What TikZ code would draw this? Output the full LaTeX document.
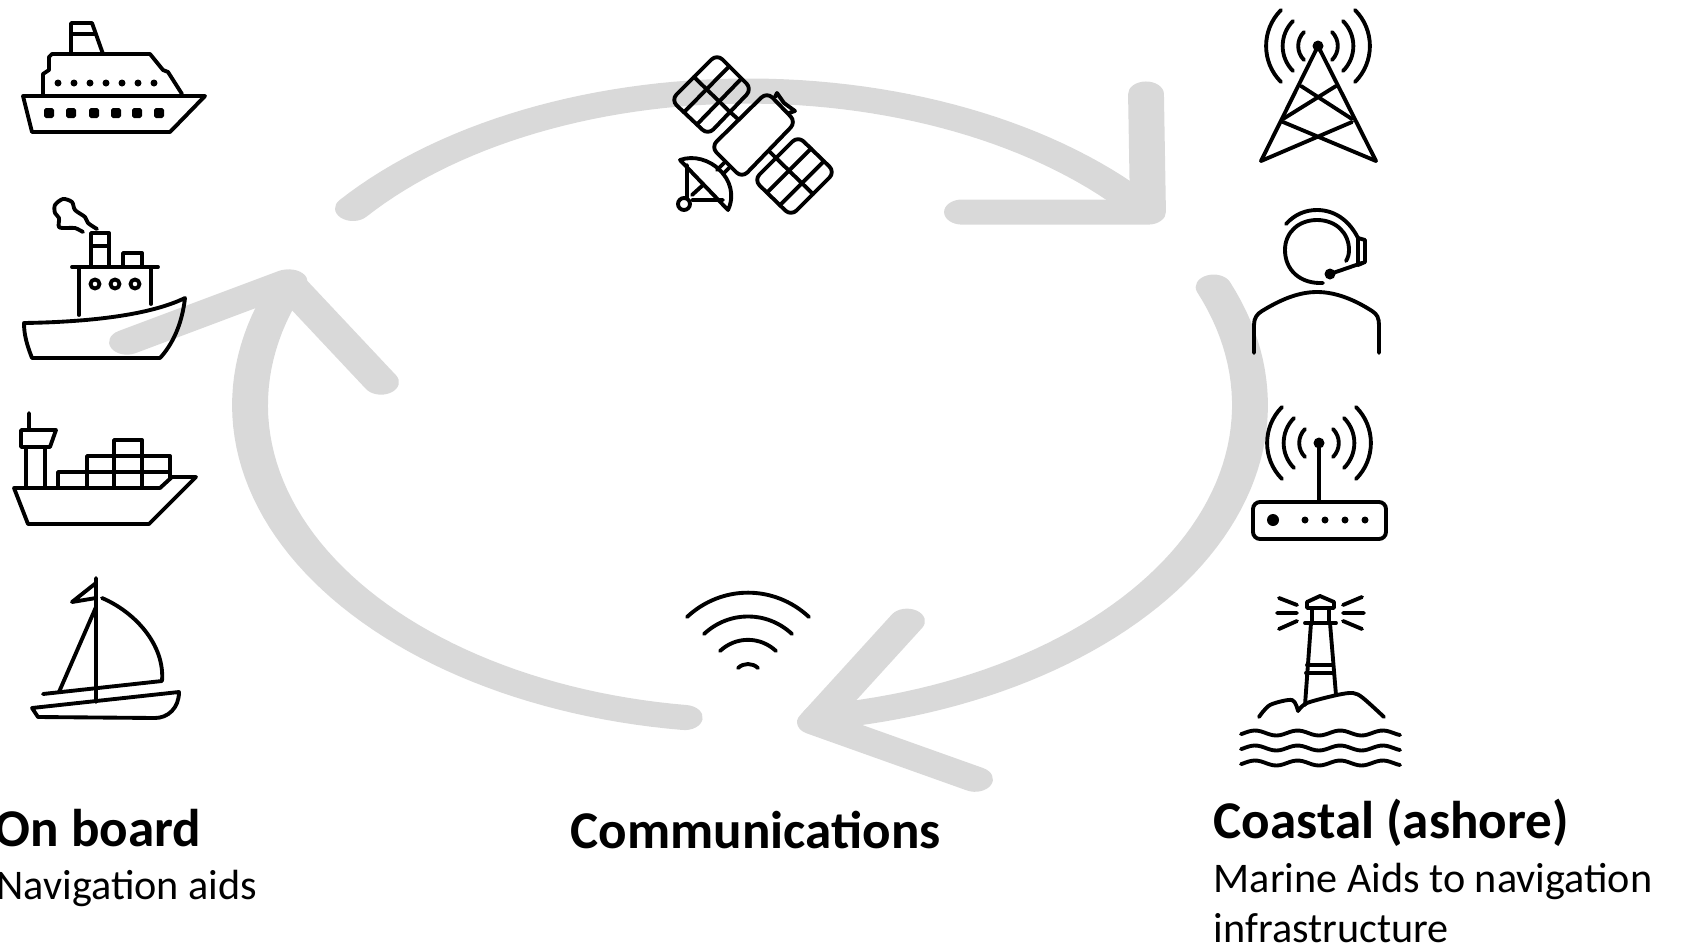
\documentclass[tikz,border=0pt]{standalone}
\usepackage{fontspec}
\setmainfont{Carlito}
\usetikzlibrary{calc}
\definecolor{ringgray}{HTML}{D9D9D9}
\tikzset{
	icon/.style={line width=1.1pt,line join=round,line cap=round},
	ring/.style={line width=10.2pt,color=ringgray,line join=round,line cap=round},
	headtext/.style={anchor=base west,inner sep=0pt,font=\fontsize{15.1}{18}\selectfont\bfseries},
	subtext/.style={anchor=base west,inner sep=0pt,font=\fontsize{12}{15}\selectfont}
}
\begin{document}
\begin{tikzpicture}[x=0.01cm,y=-0.01cm]
	\useasboundingbox (0,0) rectangle (1681,948);
	\begin{scope}[transform canvas={yscale=0.7},y=-0.0142857cm]
		\draw[ring] plot[domain=142.5:38,samples=60] ({748+498*cos(\x)},{391-300*sin(\x)});
		\draw[ring] plot[domain=22:-82,samples=60] ({750+500*cos(\x)},{405-315*sin(\x)});
		\draw[ring] plot[domain=262.5:157,samples=60] ({750+500*cos(\x)},{405-315*sin(\x)});
		\coordinate (tipright) at (1148,212);
		\coordinate (tipbottom) at (815,722);
		\coordinate (tipleft) at (287,282);
		\draw[ring] (962,212)--(tipright)--(1146,94);
		\draw[ring] (907,621)--(tipbottom)--(975,779);
		\draw[ring] (127,342)--(tipleft)--(381,382);
	\end{scope}

	\draw[icon] (23,96)--(205,96)--(170,132)--(32,132)--cycle;
	\draw[icon] (43,95)--(43,74)--(49,70)--(49,57)--(52,54)--(150,54)--(163,70)--(168,72)--(182,94);
	\draw[icon] (71,54)--(71,23)--(92,23)--(103,54) (71,34)--(96,34);
	\foreach \x in {58,74,90,106,122,138,154} \fill (\x,83) circle (3.5);
	\foreach \x in {49,71,94,116,137,159} \fill[rounded corners=0.5pt] (\x-5,108) rectangle (\x+5,118);

	\draw[icon] (24,323) .. controls (90,322) and (150,315) .. (185,298) .. controls (182,325) and (172,345) .. (160,358) -- (32,358) .. controls (27,345) and (24,335) .. (24,323) -- cycle;
	\draw[icon] (72,267)--(158,267) (79,267)--(79,315) (151,267)--(151,304);
	\foreach \x in {95,115,135} \draw[icon] (\x,284) circle (4.5);
	\draw[icon] (91,267)--(91,233)--(109,233)--(109,267) (91,246)--(109,246);
	\draw[icon] (123,267)--(123,253)--(142,253)--(142,267);
	\draw[icon] plot[smooth] coordinates {(97,229) (88,223) (85,217) (75,210) (72,202) (63,199) (55,205) (55,213) (59,218) (59,227) (67,228) (75,228) (83,232)};

	\draw[icon] (14,488)--(160,488)--(172,477)--(196,477)--(149,524)--(28,524)--cycle;
	\draw[icon] (26,488)--(26,447) (45,447)--(45,488);
	\draw[icon] (21,430)--(56,430)--(50,447)--(21,447)--cycle (29,413)--(29,430);
	\draw[icon] (58,488)--(58,472)--(170,472) (87,488)--(87,456)--(170,456)--(170,478);
	\draw[icon] (114,488)--(114,440)--(142,440)--(142,488);

	\draw[icon] (96,578)--(96,702) (96,583)--(72,602)--(96,598) (96,607)--(59,692);
	\draw[icon] (43,694)--(162,681) (102,598) .. controls (135,612) and (165,645) .. (162,681);
	\draw[icon] (32,708)--(179,692) .. controls (179,708) and (168,718) .. (155,718) -- (38,717) -- cycle;

	\coordinate (mast) at (1318,46);
	\coordinate (aerial) at (1319,443);
	\foreach \point in {mast,aerial} {
		\fill (\point) circle (5.5);
		\foreach \dx/\dy in {14/14,25/25,37/36} {
			\draw[icon] ([shift={(-\dx,-\dy)}]\point) to[bend right=45] ([shift={(-\dx,\dy)}]\point);
			\draw[icon] ([shift={(\dx,-\dy)}]\point) to[bend left=45] ([shift={(\dx,\dy)}]\point);
		}
	}
	\draw[icon] (1261,161)--(mast)--(1376,161);
	\draw[icon] (1301,86)--(1352,119) (1336,86)--(1283,119);
	\draw[icon] (1283,122)--(1376,161) (1352,122)--(1261,161);

	\draw[icon] (1323,283) .. controls (1300,284) and (1285,270) .. (1285,250) .. controls (1285,232) and (1299,220) .. (1317,220) .. controls (1336,220) and (1349,233) .. (1349,250) .. controls (1349,254) and (1348,258) .. (1346,261);
	\draw[icon] (1286,224) .. controls (1295,214) and (1306,210) .. (1317,210) .. controls (1336,210) and (1350,222) .. (1358,238);
	\draw[icon] (1358,238)--(1365,240)--(1365,262)--(1358,265)--cycle;
	\coordinate (mic) at (1330,274);
	\fill (mic) circle (5.5);
	\draw[icon] (mic)--(1362,263);
	\draw[icon] (1254,353)--(1254,325) .. controls (1254,318) and (1257,314) .. (1262,311) .. controls (1280,300) and (1298,292) .. (1317,292) .. controls (1336,292) and (1355,300) .. (1372,311) .. controls (1377,314) and (1379,318) .. (1379,325) -- (1379,353);

	\draw[icon] (aerial)--(1319,501);
	\draw[icon,rounded corners=2pt] (1253,502) rectangle (1386,539);
	\fill (1273,520) circle (6);
	\foreach \x in {1305,1325,1345,1365} \fill (\x,520) circle (3.5);

	\draw[icon] (1307,608)--(1307,602)--(1320,596)--(1334,602)--(1334,608)--cycle;
	\draw[icon] (1312,608)--(1312,623) (1329,608)--(1329,623) (1305,623)--(1336,623);
	\draw[icon] (1311,623)--(1305,705) (1330,623)--(1336,695);
	\draw[icon] (1307,665)--(1333,665) (1306,673)--(1334,673);
	\draw[icon] (1279,598)--(1297,605) (1277,613)--(1297,613) (1279,629)--(1297,621);
	\draw[icon] (1343,605)--(1362,597) (1343,613)--(1364,613) (1343,621)--(1362,629);
	\draw[icon] plot[smooth,tension=0.5] coordinates {(1259,717) (1270,705) (1292,700) (1298,711)};
	\draw[icon] plot[smooth,tension=0.5] coordinates {(1298,711) (1307,703) (1337,695) (1353,693) (1363,698) (1384,717)};
	\foreach \y in {733,748,763}
		\draw[icon] plot[smooth,domain=1241:1400,samples=50] (\x,{\y-2.5*cos((\x-1255)*8.45)});

	\coordinate (bodyA) at (767,92);
	\coordinate (bodyB) at (796,122);
	\coordinate (bodyC) at (742,178);
	\coordinate (bodyD) at (711,147);
	\draw[icon,rounded corners=2.2pt] (bodyA)--(bodyB)--(bodyC)--(bodyD)--cycle;
	\coordinate (upA) at (717,54);
	\coordinate (upB) at (752,89);
	\coordinate (upC) at (708,135);
	\coordinate (upD) at (671,100);
	\coordinate (lowA) at (798,136);
	\coordinate (lowB) at (835,172);
	\coordinate (lowC) at (791,216);
	\coordinate (lowD) at (754,180);
	\foreach \p in {up,low} {
		\draw[icon,rounded corners=2.2pt] (\p A)--(\p B)--(\p C)--(\p D)--cycle;
		\draw[icon] ($(\p A)!.35!(\p B)$)--($(\p D)!.35!(\p C)$);
		\draw[icon] ($(\p A)!.7!(\p B)$)--($(\p D)!.7!(\p C)$);
		\draw[icon] ($(\p A)!.5!(\p D)$)--($(\p B)!.5!(\p C)$);
	}
	\draw[icon] ($(upB)!.5!(upC)$)--(739,120);
	\draw[icon] ($(lowA)!.5!(lowD)$)--(770,152);
	\draw[icon] (775,97)--(777,93)--(784,103)--(795,111)--(789,113);
	\draw[icon] (724,163)--(717,170) (730,167)--(723,174);
	\draw[icon] (680,160) .. controls (708,150) and (742,180) .. (728,210) -- cycle;
	\draw[icon] (687,165)--(687,198) (692,200)--(723,200) (692,195)--(703,185);
	\draw[icon] (684,204) circle (6);

	\coordinate (wifi) at (748,680);
	\foreach \dx/\dy in {61/63,44/46,28/29,10/12}
		\draw[icon] ([shift={(-\dx,-\dy)}]wifi) to[bend left=43] ([shift={(\dx,-\dy)}]wifi);

	\node[headtext] (onboard) at (-6,846) {On board};
	\node[subtext] (aids) at (-4,899) {Navigation aids};
	\node[headtext] (comms) at (570,848) {Communications};
	\node[headtext] (coastal) at (1213,838) {Coastal (ashore)};
	\node[subtext] (marine) at (1213,892) {Marine Aids to navigation};
	\node[subtext] (infra) at (1213,942) {infrastructure};
\end{tikzpicture}
\end{document}
